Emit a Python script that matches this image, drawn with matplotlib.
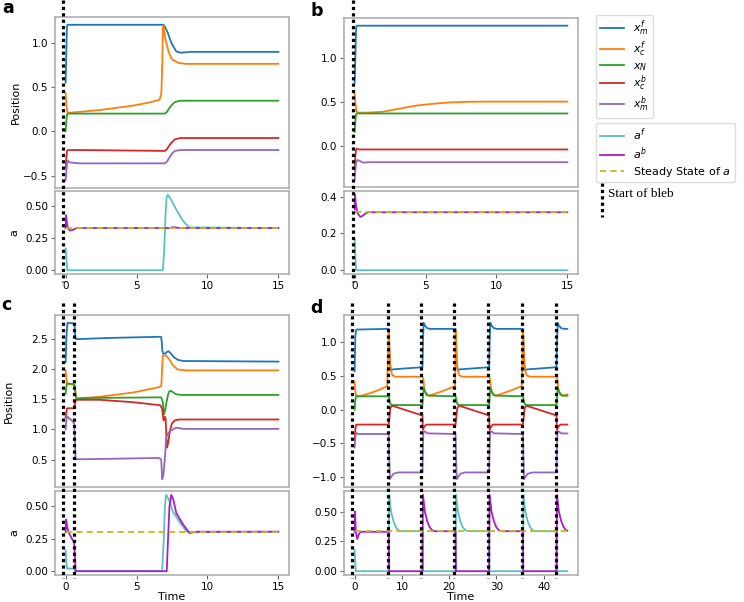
import numpy as np
import matplotlib
matplotlib.use("Agg")
import matplotlib.pyplot as plt
from matplotlib.lines import Line2D
from matplotlib.transforms import blended_transform_factory

# ---------------- colours / labels ----------------
C_XMF, C_XCF, C_XN, C_XCB, C_XMB = "#1f77b4", "#ff7f0e", "#2ca02c", "#d62728", "#9467bd"
C_AF, C_AB, C_SS = "#5cc0c0", "#a81ec8", "#bcbd22"
pos_labels = ["$x_m^f$", "$x_c^f$", "$x_N$", "$x_c^b$", "$x_m^b$"]
a_labels = ["$a^f$", "$a^b$", "Steady State of $a$"]

# ---------------- panel a ----------------
a_xmf_t = [0, 0.04, 0.09, 0.13, 6.9, 7.0, 7.2, 7.44, 7.8, 8.15, 8.8, 15]
a_xmf = [0.55, 0.85, 1.17, 1.2, 1.2, 1.18, 1.11, 1.0, 0.9, 0.885, 0.895, 0.895]
a_xcf_t = [0, 0.05, 0.12, 0.3, 2.4, 4.75, 5.9, 6.5, 6.63, 6.75, 6.82, 6.86, 6.9, 7.03, 7.27, 7.5, 7.97, 8.5, 15]
a_xcf = [0.43, 0.3, 0.21, 0.21, 0.24, 0.29, 0.325, 0.35, 0.36, 0.43, 0.8, 1.18, 1.19, 1.04, 0.89, 0.81, 0.77, 0.76, 0.76]
a_xn_t = [0, 0.05, 0.1, 0.15, 7.0, 7.15, 7.3, 7.5, 7.7, 8.1, 15]
a_xn = [0.0, 0.12, 0.19, 0.2, 0.2, 0.22, 0.26, 0.3, 0.33, 0.345, 0.345]
a_xcb_t = [0, 0.05, 0.1, 0.15, 1.0, 7.0, 7.15, 7.3, 7.5, 7.7, 8.1, 15]
a_xcb = [-0.42, -0.3, -0.22, -0.21, -0.21, -0.22, -0.2, -0.16, -0.12, -0.09, -0.075, -0.075]
a_xmb_t = [0, 0.05, 0.1, 0.15, 0.3, 1.0, 7.0, 7.15, 7.3, 7.5, 7.7, 8.1, 15]
a_xmb = [-0.55, -0.45, -0.36, -0.33, -0.35, -0.36, -0.36, -0.34, -0.3, -0.25, -0.22, -0.21, -0.21]
a_af_t = [0, 0.05, 0.12, 6.85, 6.95, 7.05, 7.12, 7.2, 7.4, 7.8, 8.25, 8.7, 15]
a_af = [0.17, 0.1, 0.0, 0.0, 0.15, 0.45, 0.57, 0.59, 0.56, 0.475, 0.39, 0.335, 0.33]
a_ab_t = [0, 0.03, 0.08, 0.15, 0.3, 0.5, 0.8, 7.3, 7.6, 8.0, 15]
a_ab = [0.33, 0.43, 0.38, 0.33, 0.31, 0.315, 0.33, 0.33, 0.337, 0.33, 0.33]
a_ss_t = [0, 15]
a_ss = [0.33, 0.33]

# ---------------- panel b ----------------
b_xmf_t = [0, 0.05, 0.1, 0.15, 0.3, 15]
b_xmf = [0.72, 1.0, 1.33, 1.37, 1.37, 1.37]
b_xcf_t = [0, 0.05, 0.12, 0.2, 0.5, 1.0, 2.0, 3.0, 4.35, 5.5, 6.7, 8.0, 9.0, 15]
b_xcf = [0.6, 0.5, 0.4, 0.38, 0.38, 0.38, 0.39, 0.42, 0.46, 0.48, 0.496, 0.503, 0.505, 0.505]
b_xn_t = [0, 0.05, 0.1, 0.15, 15]
b_xn = [0.16, 0.28, 0.36, 0.37, 0.37]
b_xcb_t = [0, 0.05, 0.1, 0.15, 0.3, 15]
b_xcb = [-0.27, -0.12, -0.04, -0.03, -0.04, -0.04]
b_xmb_t = [0, 0.05, 0.1, 0.2, 0.35, 0.6, 1.0, 15]
b_xmb = [-0.38, -0.28, -0.19, -0.16, -0.17, -0.19, -0.185, -0.185]
b_af_t = [0, 0.05, 0.1, 15]
b_af = [0.17, 0.08, 0.0, 0.0]
b_ab_t = [0, 0.03, 0.08, 0.2, 0.4, 0.55, 0.8, 1.0, 15]
b_ab = [0.33, 0.41, 0.36, 0.31, 0.29, 0.295, 0.31, 0.315, 0.315]
b_ss_t = [0, 15]
b_ss = [0.315, 0.315]

# ---------------- panel c ----------------
c_xmf_t = [0, 0.05, 0.12, 0.15, 0.55, 0.62, 0.66, 0.7, 0.75, 3.0, 6.72, 6.78, 6.82, 6.88, 7.0, 7.15, 7.25, 7.4, 7.6, 7.9, 8.3, 15]
c_xmf = [2.11, 2.5, 2.75, 2.76, 2.75, 2.74, 2.6, 2.5, 2.49, 2.51, 2.53, 2.45, 2.3, 2.25, 2.25, 2.28, 2.29, 2.26, 2.2, 2.15, 2.13, 2.12]
c_xcf_t = [0, 0.05, 0.1, 0.6, 0.65, 0.7, 0.8, 2.4, 4.75, 5.2, 6.6, 6.75, 6.8, 6.85, 7.1, 7.3, 7.56, 7.9, 8.5, 15]
c_xcf = [1.98, 1.85, 1.75, 1.74, 1.7, 1.55, 1.51, 1.54, 1.61, 1.63, 1.7, 1.72, 2.0, 2.22, 2.22, 2.16, 2.06, 1.99, 1.975, 1.975]
c_xn_t = [0, 0.05, 0.1, 0.53, 0.65, 0.72, 0.8, 1.5, 6.74, 6.85, 6.93, 7.0, 7.09, 7.2, 7.28, 7.4, 7.6, 7.8, 8.2, 15]
c_xn = [1.59, 1.7, 1.76, 1.75, 1.72, 1.53, 1.51, 1.52, 1.53, 1.45, 1.25, 1.3, 1.42, 1.55, 1.62, 1.64, 1.61, 1.58, 1.57, 1.57]
c_xcb_t = [0, 0.04, 0.1, 0.6, 0.65, 0.72, 2.4, 4.75, 6.67, 6.8, 6.9, 7.0, 7.05, 7.1, 7.15, 7.25, 7.35, 7.5, 7.7, 8.0, 15]
c_xcb = [1.2, 1.28, 1.35, 1.35, 1.42, 1.49, 1.49, 1.45, 1.4, 1.35, 1.15, 1.21, 1.18, 0.9, 0.7, 0.8, 0.98, 1.1, 1.15, 1.165, 1.165]
c_xmb_t = [0, 0.04, 0.1, 0.42, 0.6, 0.66, 0.7, 0.75, 1.5, 6.6, 6.74, 6.81, 6.9, 7.0, 7.09, 7.2, 7.4, 7.8, 8.3, 15]
c_xmb = [1.0, 1.12, 1.22, 1.15, 1.1, 0.8, 0.52, 0.51, 0.51, 0.53, 0.5, 0.18, 0.26, 0.53, 0.87, 0.93, 0.98, 1.03, 1.01, 1.01]
c_af_t = [0, 0.04, 0.1, 0.6, 0.7, 6.8, 6.9, 7.0, 7.09, 7.3, 7.56, 8.03, 8.5, 8.7, 15]
c_af = [0.16, 0.08, 0.02, 0.02, 0.0, 0.0, 0.2, 0.5, 0.59, 0.55, 0.46, 0.38, 0.31, 0.3, 0.305]
c_ab_t = [0, 0.04, 0.1, 0.2, 0.6, 0.66, 0.7, 7.13, 7.22, 7.32, 7.45, 7.6, 7.8, 8.26, 8.73, 9.2, 9.6, 15]
c_ab = [0.3, 0.4, 0.35, 0.3, 0.22, 0.1, 0.0, 0.0, 0.25, 0.5, 0.59, 0.55, 0.45, 0.365, 0.295, 0.305, 0.305, 0.305]
c_ss_t = [0, 15]
c_ss = [0.305, 0.305]

# ---------------- panel d (periodic blebbing) ----------------
d_events = [0.0, 7.2, 14.35, 21.35, 28.45, 35.6, 42.7]
d_states = ["A0", "B", "A", "B", "A", "B", "A"]
d_end = 45.0
# segment shapes: (time after event, value)
dA0_xmf = ([0, 0.15, 0.35, 6.9], [0.57, 1.1, 1.19, 1.2])
dA0_xcf = ([0, 0.1, 0.3, 1.0, 3.0, 5.0, 6.9], [0.42, 0.3, 0.21, 0.2, 0.24, 0.29, 0.35])
dA0_xn = ([0, 0.15, 0.35, 6.9], [0.0, 0.15, 0.2, 0.2])
dA0_xcb = ([0, 0.15, 0.35, 6.9], [-0.45, -0.28, -0.22, -0.22])
dA0_xmb = ([0, 0.15, 0.35, 0.7, 6.9], [-0.56, -0.4, -0.34, -0.36, -0.36])
dA0_af = ([0, 0.15, 0.25, 6.9], [0.18, 0.05, 0.0, 0.0])
dA0_ab = ([0, 0.08, 0.25, 0.55, 0.9, 1.3, 6.9], [0.33, 0.5, 0.33, 0.27, 0.31, 0.33, 0.33])

dB_xmf = ([0, 0.1, 0.25, 0.5, 1.0, 6.9], [1.2, 1.0, 0.68, 0.59, 0.6, 0.63])
dB_xcf = ([0, 0.05, 0.2, 0.4, 0.8, 1.5, 6.9], [1.18, 1.15, 0.85, 0.6, 0.51, 0.49, 0.49])
dB_xn = ([0, 0.15, 0.35, 0.7, 6.9], [0.2, 0.15, 0.09, 0.07, 0.07])
dB_xcb = ([0, 0.15, 0.35, 0.7, 1.2, 6.9], [-0.22, -0.12, 0.02, 0.06, 0.05, -0.08])
dB_xmb = ([0, 0.1, 0.25, 0.5, 1.0, 2.0, 6.9], [-0.36, -0.7, -1.03, -1.0, -0.95, -0.93, -0.93])
dB_af = ([0, 0.1, 0.5, 1.0, 1.5, 2.0, 2.6, 6.9], [0.0, 0.64, 0.5, 0.42, 0.37, 0.345, 0.335, 0.335])
dB_ab = ([0, 0.08, 6.9], [0.33, 0.0, 0.0])

dA_xmf = ([0, 0.1, 0.25, 0.5, 1.0, 1.6, 6.9], [0.63, 1.0, 1.29, 1.25, 1.21, 1.2, 1.2])
dA_xcf = ([0, 0.2, 0.4, 0.8, 1.5, 4.0, 6.9], [0.49, 0.45, 0.3, 0.22, 0.21, 0.27, 0.35])
dA_xn = ([0, 0.15, 0.3, 0.6, 1.2, 6.9], [0.07, 0.25, 0.32, 0.26, 0.21, 0.2])
dA_xcb = ([0, 0.1, 0.3, 0.8, 6.9], [-0.08, -0.3, -0.26, -0.22, -0.22])
dA_xmb = ([0, 0.1, 0.2, 0.5, 1.0, 6.9], [-0.93, -0.55, -0.33, -0.32, -0.35, -0.36])
dA_af = ([0, 0.08, 6.9], [0.335, 0.0, 0.0])
dA_ab = ([0, 0.1, 0.5, 1.0, 1.5, 2.0, 2.6, 6.9], [0.0, 0.64, 0.5, 0.42, 0.37, 0.345, 0.335, 0.335])
d_ss_t = [0, 45]
d_ss = [0.335, 0.335]

# start-of-bleb marker times
bleb_a = [-0.19]
bleb_b = [-0.14]
bleb_c = [-0.17, 0.58]
bleb_d = [-0.6, 7.1, 13.95, 20.95, 28.2, 35.5, 42.5]

D_TEMPLATES = {
    "A0": dict(xmf=dA0_xmf, xcf=dA0_xcf, xn=dA0_xn, xcb=dA0_xcb, xmb=dA0_xmb, af=dA0_af, ab=dA0_ab),
    "B": dict(xmf=dB_xmf, xcf=dB_xcf, xn=dB_xn, xcb=dB_xcb, xmb=dB_xmb, af=dB_af, ab=dB_ab),
    "A": dict(xmf=dA_xmf, xcf=dA_xcf, xn=dA_xn, xcb=dA_xcb, xmb=dA_xmb, af=dA_af, ab=dA_ab),
}


def build_d(key):
    ts, vs = [], []
    for i, (ev, st) in enumerate(zip(d_events, d_states)):
        tau, val = D_TEMPLATES[st][key]
        nxt = d_events[i + 1] if i + 1 < len(d_events) else d_end
        for a, b in zip(tau, val):
            if ev + a <= nxt:
                ts.append(ev + a)
                vs.append(b)
        if i + 1 == len(d_events) and ts[-1] < d_end:
            ts.append(d_end)
            vs.append(float(np.interp(d_end - ev, tau, val)))
    return ts, vs


# ---------------- figure ----------------
W, H = 744, 602
fig = plt.figure(figsize=(W / 100, H / 100), dpi=100)


def fx(px):
    return px / W


def fy(py):
    return 1 - py / H


def make_axes(x0, top, mid, bot_top, bot):
    axt = fig.add_axes([fx(x0), fy(mid), fx(234), (mid - top) / H])
    axb = fig.add_axes([fx(x0), fy(bot), fx(234), (bot - bot_top) / H])
    for ax in (axt, axb):
        for s in ax.spines.values():
            s.set_color("#aaaaaa")
            s.set_linewidth(1.1)
        ax.tick_params(labelsize=7.5, length=3, width=0.8, color="#666666", pad=2)
    axt.tick_params(axis="x", bottom=False, labelbottom=False)
    return axt, axb


axes = {
    "a": make_axes(55, 17, 188, 191, 274),
    "b": make_axes(344, 18, 187, 191, 274),
    "c": make_axes(55, 315, 487, 491, 575),
    "d": make_axes(344, 315, 487, 491, 575),
}

LW = 1.3
pos_colors = [C_XMF, C_XCF, C_XN, C_XCB, C_XMB]

panels_pos = {
    "a": [(a_xmf_t, a_xmf), (a_xcf_t, a_xcf), (a_xn_t, a_xn), (a_xcb_t, a_xcb), (a_xmb_t, a_xmb)],
    "b": [(b_xmf_t, b_xmf), (b_xcf_t, b_xcf), (b_xn_t, b_xn), (b_xcb_t, b_xcb), (b_xmb_t, b_xmb)],
    "c": [(c_xmf_t, c_xmf), (c_xcf_t, c_xcf), (c_xn_t, c_xn), (c_xcb_t, c_xcb), (c_xmb_t, c_xmb)],
    "d": [build_d(k) for k in ("xmf", "xcf", "xn", "xcb", "xmb")],
}
panels_a = {
    "a": [(a_af_t, a_af), (a_ab_t, a_ab), (a_ss_t, a_ss)],
    "b": [(b_af_t, b_af), (b_ab_t, b_ab), (b_ss_t, b_ss)],
    "c": [(c_af_t, c_af), (c_ab_t, c_ab), (c_ss_t, c_ss)],
    "d": [build_d("af"), build_d("ab"), (d_ss_t, d_ss)],
}

for key, (axt, axb) in axes.items():
    for (t, v), col in zip(panels_pos[key], pos_colors):
        axt.plot(t, v, color=col, lw=LW)
    (t1, v1), (t2, v2), (t3, v3) = panels_a[key]
    axb.plot(t1, v1, color=C_AF, lw=LW)
    axb.plot(t2, v2, color=C_AB, lw=LW)
    axb.plot(t3, v3, color=C_SS, lw=LW, ls=(0, (3.5, 2.2)))

for k in ("a", "b", "c"):
    for ax in axes[k]:
        ax.set_xlim(-0.75, 15.75)
        ax.set_xticks([0, 5, 10, 15])
for ax in axes["d"]:
    ax.set_xlim(-2.25, 47.25)
    ax.set_xticks([0, 10, 20, 30, 40])

axes["a"][0].set_yticks([-0.5, 0.0, 0.5, 1.0])
axes["a"][1].set_yticks([0.0, 0.25, 0.5])
axes["b"][0].set_yticks([0.0, 0.5, 1.0])
axes["b"][1].set_yticks([0.0, 0.2, 0.4])
axes["c"][0].set_yticks([0.5, 1.0, 1.5, 2.0, 2.5])
axes["c"][1].set_yticks([0.0, 0.25, 0.5])
axes["d"][0].set_yticks([-1.0, -0.5, 0.0, 0.5, 1.0])
axes["d"][1].set_yticks([0.0, 0.25, 0.5])
axes["a"][1].set_yticklabels(["0.00", "0.25", "0.50"])
axes["c"][1].set_yticklabels(["0.00", "0.25", "0.50"])
axes["d"][1].set_yticklabels(["0.00", "0.25", "0.50"])

# labels
for k, xr in (("a", -0.145), ("c", -0.175)):
    axes[k][0].set_ylabel("Position", fontsize=8)
    axes[k][0].yaxis.set_label_coords(xr, 0.5)
    axes[k][1].set_ylabel("a", fontsize=8)
    axes[k][1].yaxis.set_label_coords(-0.152, 0.5)
for k in ("c", "d"):
    axes[k][1].set_xlabel("Time", fontsize=8, labelpad=0)

# panel letters
for letter, px, py in (("a", 2, 13), ("b", 310, 16), ("c", 1, 310), ("d", 310, 313)):
    fig.text(fx(px), fy(py), letter, fontsize=12.5, fontweight="bold", va="baseline", ha="left")

# start-of-bleb dotted lines spanning each panel column
DOT = dict(color="black", lw=2.3, ls=(0, (1, 1)))
for key, times, y0, y1 in (("a", bleb_a, 0, 282), ("b", bleb_b, 0, 282),
                           ("c", bleb_c, 303, 578), ("d", bleb_d, 303, 578)):
    tr = blended_transform_factory(axes[key][0].transData, fig.transFigure)
    for t in times:
        fig.add_artist(Line2D([t, t], [fy(y0), fy(y1)], transform=tr, **DOT))

# legends
h1 = [Line2D([], [], color=c, lw=LW) for c in pos_colors]
leg1 = fig.legend(h1, pos_labels, loc="upper left", bbox_to_anchor=(fx(596), fy(15)),
                  fontsize=8, borderaxespad=0, edgecolor="#dddddd", framealpha=1,
                  handlelength=2.2, labelspacing=0.12, borderpad=0.35)
h2 = [Line2D([], [], color=C_AF, lw=LW), Line2D([], [], color=C_AB, lw=LW),
      Line2D([], [], color=C_SS, lw=LW, ls=(0, (3.5, 2.2)))]
leg2 = fig.legend(h2, a_labels, loc="upper left", bbox_to_anchor=(fx(596), fy(123)),
                  fontsize=8, borderaxespad=0, edgecolor="#dddddd", framealpha=1,
                  handlelength=2.2, labelspacing=0.2, borderpad=0.35)
fig.add_artist(Line2D([fx(602), fx(602)], [fy(183), fy(217)], transform=fig.transFigure, **DOT))
fig.text(fx(608), fy(194), "Start of bleb", fontsize=9.5, family="Liberation Serif", va="center", ha="left")

fig.savefig("out.png", dpi=100)
